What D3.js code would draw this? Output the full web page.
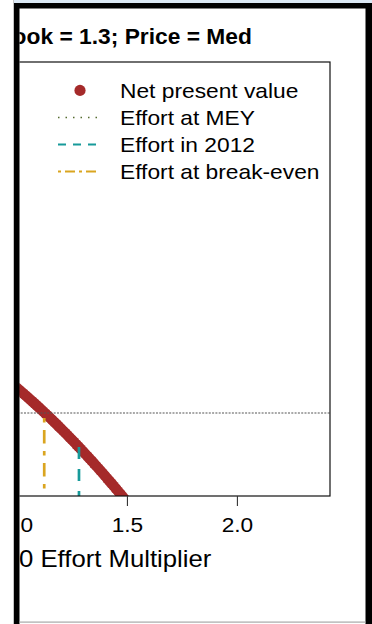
<!DOCTYPE html>
<html>
<head>
<meta charset="utf-8">
<script src="https://cdn.jsdelivr.net/npm/d3@7"></script>
<style>
  html, body { margin: 0; padding: 0; background: #fff; }
  svg { display: block; }
</style>
</head>
<body>
<div id="chart"></div>
<script>
// ---- data ----
const effort = [0.96, 0.97, 0.98, 0.99, 1.00, 1.01, 1.02, 1.03, 1.04, 1.05,
                1.06, 1.07, 1.08, 1.09, 1.10, 1.11, 1.12, 1.13, 1.14, 1.15,
                1.16, 1.17, 1.18, 1.19, 1.20, 1.21, 1.22, 1.23, 1.24, 1.25,
                1.26, 1.27, 1.28, 1.29, 1.30, 1.31, 1.32, 1.33, 1.34, 1.35,
                1.36, 1.37, 1.38, 1.39, 1.40, 1.41, 1.42, 1.43, 1.44, 1.45,
                1.46, 1.47, 1.48, 1.49, 1.50];
const npv = [7.81, 7.37, 6.93, 6.49, 6.04, 5.59, 5.13, 4.67, 4.21, 3.74,
             3.27, 2.80, 2.32, 1.84, 1.35, 0.86, 0.36, -0.14, -0.64, -1.15,
             -1.66, -2.18, -2.69, -3.22, -3.74, -4.28, -4.81, -5.35, -5.89, -6.44,
             -6.99, -7.55, -8.10, -8.67, -9.23, -9.81, -10.38, -10.96, -11.54, -12.13,
             -12.72, -13.32, -13.91, -14.52, -15.12, -15.74, -16.35, -16.97, -17.59, -18.22,
             -18.85, -19.49, -20.12, -20.77, -21.41];
const breakEvenEffort = 1.124;
const effort2012 = 1.282;
const npv2012 = -8.2;
const xTicks = [1.0, 1.5, 2.0];
const xTickLabels = ["1.0", "1.5", "2.0"];
const legendLabels = ["Net present value", "Effort at MEY", "Effort in 2012", "Effort at break-even"];
const titleText = "ook = 1.3; Price = Med";
const xTitleText = "0 Effort Multiplier";

// ---- layout ----
const W = 372, H = 624;
const plot = { left: -223.5, right: 330, top: 62, bottom: 496 };
const xLim = [0, 2.33];
const xPad = 0.04 * (xLim[1] - xLim[0]);
const yDom = [-20, 84.6];
const FONT = "'Liberation Sans', Arial, Helvetica, sans-serif";
const SX = 1.08;

const col = {
  npv: "#A52A2A",
  mey: "#556B2F",
  e2012: "#179a9a",
  be: "#DAA520",
  zero: "#555"
};

const svg = d3.select("#chart").append("svg")
  .attr("width", W).attr("height", H);
svg.append("rect").attr("width", W).attr("height", H).attr("fill", "#fff");

const defs = svg.append("defs");
defs.append("clipPath").attr("id", "win")
  .append("rect").attr("x", 19.5).attr("y", 8.5).attr("width", 346).attr("height", 613);
defs.append("clipPath").attr("id", "plotclip")
  .append("rect").attr("x", plot.left).attr("y", plot.top)
  .attr("width", plot.right - plot.left).attr("height", plot.bottom - plot.top);

const x = d3.scaleLinear().domain([xLim[0] - xPad, xLim[1] + xPad]).range([plot.left, plot.right]);
const y = d3.scaleLinear().domain(yDom).range([plot.bottom, plot.top]);

const g = svg.append("g").attr("clip-path", "url(#win)");

// title
g.append("text")
  .attr("transform", `translate(12.6,44.3) scale(1.07,1)`)
  .attr("font-family", FONT).attr("font-weight", "bold").attr("font-size", 21.3)
  .attr("fill", "#000").text(titleText);

// plotted marks
const pg = g.append("g").attr("clip-path", "url(#plotclip)");
pg.selectAll("circle.npv").data(effort).join("circle")
  .attr("class", "npv")
  .attr("cx", d => x(d))
  .attr("cy", (d, i) => y(npv[i]))
  .attr("r", 5.4)
  .attr("fill", col.npv);

// zero NPV reference
pg.append("line")
  .attr("x1", plot.left).attr("x2", plot.right)
  .attr("y1", y(0)).attr("y2", y(0))
  .attr("stroke", col.zero).attr("stroke-width", 1.1)
  .attr("stroke-dasharray", "2 1.3");

// break-even effort
pg.append("line")
  .attr("x1", x(breakEvenEffort)).attr("x2", x(breakEvenEffort))
  .attr("y1", y(0)).attr("y2", y(yDom[0]))
  .attr("stroke", col.be).attr("stroke-width", 2.7)
  .attr("stroke-dasharray", "4.5 7.5 13.5 7.5")
  .attr("stroke-dashoffset", 28);

// effort in 2012
pg.append("line")
  .attr("x1", x(effort2012)).attr("x2", x(effort2012))
  .attr("y1", y(npv2012)).attr("y2", y(yDom[0]))
  .attr("stroke", col.e2012).attr("stroke-width", 2.7)
  .attr("stroke-dasharray", "12 10");

// plot box
g.append("rect")
  .attr("x", plot.left).attr("y", plot.top)
  .attr("width", plot.right - plot.left).attr("height", plot.bottom - plot.top)
  .attr("fill", "none").attr("stroke", "#111").attr("stroke-width", 1.2);

// x axis
const ax = g.append("g").attr("transform", `translate(0,${plot.bottom})`)
  .call(d3.axisBottom(x).tickValues(xTicks)
    .tickFormat((d, i) => xTickLabels[i]).tickSize(10).tickSizeOuter(0).tickPadding(11));
ax.select(".domain").remove();
ax.selectAll(".tick line").attr("stroke", "#333").attr("stroke-width", 1.1);
ax.selectAll(".tick text")
  .attr("font-family", FONT).attr("font-size", 21).attr("fill", "#000")
  .attr("transform", `scale(${SX},1)`);

g.append("text")
  .attr("transform", `translate(19,567) scale(${SX},1)`)
  .attr("font-family", FONT).attr("font-size", 23.8).attr("fill", "#000")
  .text(xTitleText);

// legend
const lg = g.append("g");
const rowY = [98, 125, 152, 179];
const symX0 = 58, symX1 = 100, textX = 120;
lg.selectAll("text").data(legendLabels).join("text")
  .attr("transform", (d, i) => `translate(${textX},${rowY[i]}) scale(1.1,1)`)
  .attr("font-family", FONT).attr("font-size", 20.7).attr("fill", "#000")
  .text(d => d);
lg.append("circle").attr("cx", 80).attr("cy", rowY[0] - 7.6).attr("r", 5.6).attr("fill", col.npv);
const legLines = [
  { row: 1, color: col.mey, w: 1.5, dash: "1.5 6" },
  { row: 2, color: col.e2012, w: 2, dash: "8 7" },
  { row: 3, color: col.be, w: 2, dash: "3 4 10 4" }
];
lg.selectAll("line").data(legLines).join("line")
  .attr("x1", symX0).attr("x2", symX1)
  .attr("y1", d => rowY[d.row] - 7.6).attr("y2", d => rowY[d.row] - 7.6)
  .attr("stroke", d => d.color).attr("stroke-width", d => d.w)
  .attr("stroke-dasharray", d => d.dash);

// window frame
svg.append("rect").attr("x", 13).attr("y", 0).attr("width", 1).attr("height", H).attr("fill", "#c4c4c4");
svg.append("rect").attr("x", 14).attr("y", 0).attr("width", W - 14).attr("height", 3).attr("fill", "#dbe8f4");
svg.append("rect").attr("x", 14).attr("y", 3).attr("width", W - 14).attr("height", 5.5).attr("fill", "#000");
svg.append("rect").attr("x", 14).attr("y", 3).attr("width", 5.5).attr("height", H - 3).attr("fill", "#000");
svg.append("rect").attr("x", 365.5).attr("y", 3).attr("width", W - 365.5).attr("height", H - 3).attr("fill", "#000");
svg.append("rect").attr("x", 19.5).attr("y", 621.5).attr("width", 346).attr("height", 1.2).attr("fill", "#a8a8a8");
</script>
</body>
</html>
